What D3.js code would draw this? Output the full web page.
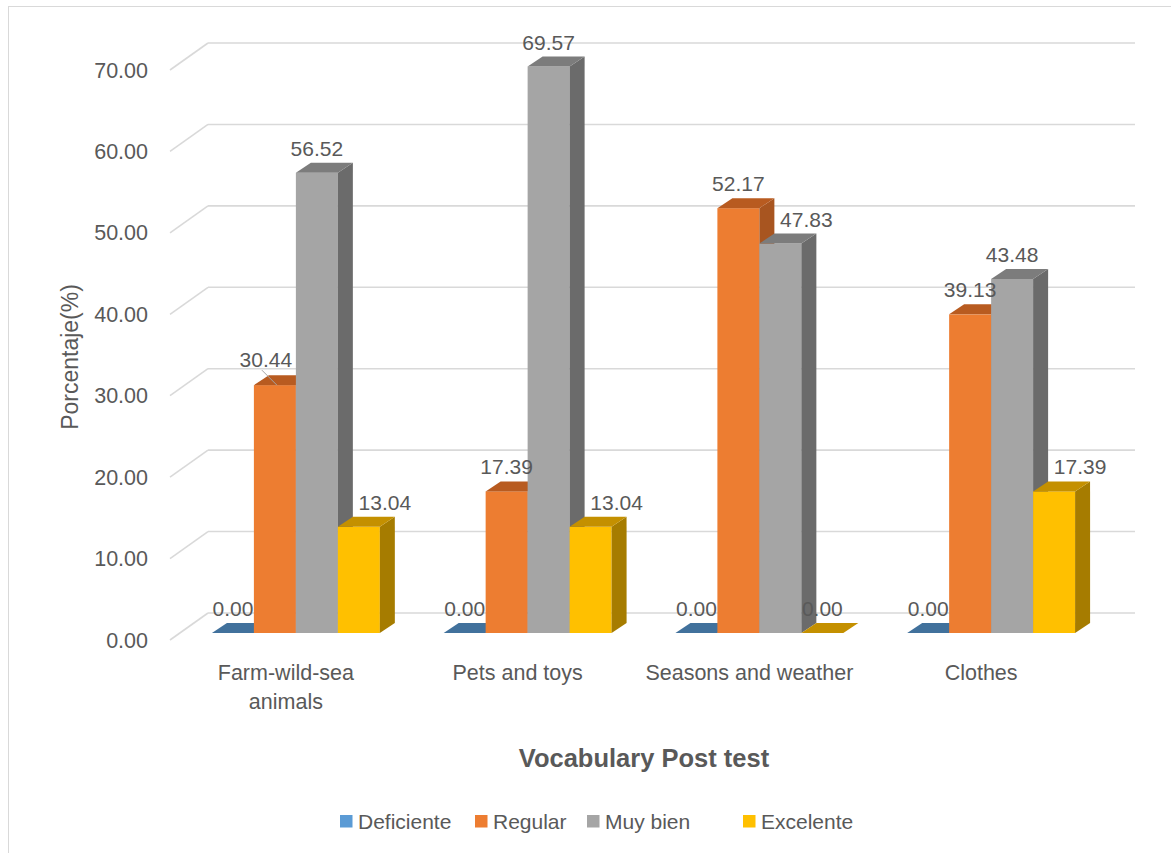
<!DOCTYPE html>
<html>
<head>
<meta charset="utf-8">
<script src="https://cdn.jsdelivr.net/npm/d3@7"></script>
<style>
  body { margin: 0; background: #fff; }
  svg { display: block; }
  text { font-family: "Liberation Sans", "Open Sans", sans-serif; fill: #595959; }
</style>
</head>
<body>
<svg id="chart" width="1171" height="853"></svg>
<script>
// ---- data ----
const categories = ["Farm-wild-sea animals", "Pets and toys", "Seasons and weather", "Clothes"];
const categoryLines = [["Farm-wild-sea", "animals"], ["Pets and toys"], ["Seasons and weather"], ["Clothes"]];
const seriesNames = ["Deficiente", "Regular", "Muy bien", "Excelente"];
const deficiente = [0.00, 0.00, 0.00, 0.00];
const regular    = [30.44, 17.39, 52.17, 39.13];
const muyBien    = [56.52, 69.57, 47.83, 43.48];
const excelente  = [13.04, 13.04, 0.00, 17.39];
const yTicks = [0, 10, 20, 30, 40, 50, 60, 70];
const seriesValues = [deficiente, regular, muyBien, excelente];

const colors = {
  front: ["#5b9bd5", "#ed7d31", "#a5a5a5", "#ffc000"],
  top:   ["#41719c", "#b85b20", "#7c7c7c", "#c49000"],
  side:  ["#3a6590", "#a85520", "#6b6b6b", "#a67c00"]
};

const svg = d3.select("#chart");

// chart border
svg.append("rect").attr("x", 8.5).attr("y", 6.5).attr("width", 1200).attr("height", 900)
  .attr("fill", "none").attr("stroke", "#d9d9d9").attr("stroke-width", 1);

// scales
const x = d3.scaleBand().domain(categories).range([170, 1097]);
const xs = d3.scaleBand().domain(seriesNames).range([0, x.bandwidth()]).paddingInner(0).paddingOuter(0.76);
const y = d3.scaleLinear().domain([0, 70]).range([640, 70]);

// 3D depth
const wallDX = 38, wallDY = -27;
const barOX = 10, barOY = -7;   // bar front-face offset
const barDX = 15, barDY = -10;  // bar depth

// gridlines: diagonal on left side wall + horizontal on back wall
const grid = svg.append("g");
yTicks.forEach(t => {
  const yy = y(t);
  grid.append("line").attr("x1", 170).attr("y1", yy).attr("x2", 170 + wallDX).attr("y2", yy + wallDY)
    .attr("stroke", "#d9d9d9").attr("stroke-width", 1.6);
  grid.append("line").attr("x1", 170 + wallDX).attr("y1", yy + wallDY).attr("x2", 1097 + wallDX).attr("y2", yy + wallDY)
    .attr("stroke", "#d9d9d9").attr("stroke-width", 1.6);
});

// y tick labels
svg.append("g").selectAll("text").data(yTicks).join("text")
  .attr("x", 148).attr("y", d => y(d)).attr("dy", "0.35em")
  .attr("text-anchor", "end").attr("font-size", 21.5)
  .text(d => d.toFixed(2));

// bars
const bars = svg.append("g");
const labels = svg.append("g");
categories.forEach((cat, ci) => {
  seriesNames.forEach((s, si) => {
    const v = seriesValues[si][ci];
    const x0 = x(cat) + xs(s) + barOX;
    const w = xs.bandwidth();
    const yb = y(0) + barOY;
    const yt = y(v) + barOY;
    const g = bars.append("g");
    if (v > 0) {
      g.append("rect").attr("x", x0).attr("y", yt).attr("width", w).attr("height", yb - yt)
        .attr("fill", colors.front[si]);
      g.append("polygon").attr("points", [
        [x0 + w, yt], [x0 + w + barDX, yt + barDY], [x0 + w + barDX, yb + barDY], [x0 + w, yb]
      ].map(p => p.join(",")).join(" ")).attr("fill", colors.side[si]);
    }
    g.append("polygon").attr("points", [
      [x0, yt], [x0 + w, yt], [x0 + w + barDX, yt + barDY], [x0 + barDX, yt + barDY]
    ].map(p => p.join(",")).join(" ")).attr("fill", colors.top[si]);

    // label placement
    let lx = x0 + w / 2;
    let ly = yt - 17;
    const leftV = si > 0 ? seriesValues[si - 1][ci] : -1;
    if (v > 0 && leftV > v) lx += 26;
    let leader = false;
    if (si === 1 && ci === 0) { lx -= 9; ly -= 1; leader = true; }
    if (leader) {
      labels.append("line").attr("x1", lx - 4).attr("y1", ly + 3).attr("x2", x0 + w / 2 + 2).attr("y2", yt + barDY / 2 + 5)
        .attr("stroke", "#a5a5a5").attr("stroke-width", 1);
    }
    labels.append("text").attr("x", lx).attr("y", ly)
      .attr("text-anchor", "middle").attr("font-size", 21)
      .text(v.toFixed(2));
  });
});

// category labels
categories.forEach((cat, ci) => {
  const cx = x(cat) + x.bandwidth() / 2;
  categoryLines[ci].forEach((ln, li) => {
    svg.append("text").attr("x", cx).attr("y", 680 + li * 29)
      .attr("text-anchor", "middle").attr("font-size", 21.5).text(ln);
  });
});

// axis titles
svg.append("text").attr("transform", "translate(78,357) rotate(-90)")
  .attr("text-anchor", "middle").attr("font-size", 23).text("Porcentaje(%)");
svg.append("text").attr("x", 644).attr("y", 767)
  .attr("text-anchor", "middle").attr("font-size", 25.5).attr("font-weight", "bold")
  .text("Vocabulary Post test");

// legend
const legendX = [340, 475, 587, 743];
const leg = svg.append("g");
seriesNames.forEach((s, i) => {
  leg.append("rect").attr("x", legendX[i]).attr("y", 815).attr("width", 12.5).attr("height", 12.5)
    .attr("fill", colors.front[i]);
  leg.append("text").attr("x", legendX[i] + 18).attr("y", 821.5).attr("dy", "0.35em")
    .attr("font-size", 21).text(s);
});
</script>
</body>
</html>
